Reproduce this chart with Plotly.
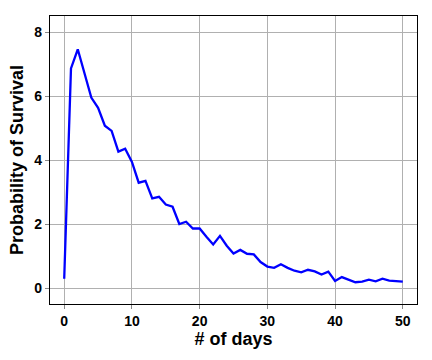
import plotly.graph_objects as go

days = list(range(51))
survival = [0.30, 6.87, 7.47, 6.70, 5.96, 5.64, 5.08, 4.92, 4.27, 4.36,
            3.95, 3.30, 3.36, 2.81, 2.86, 2.62, 2.55, 2.01, 2.08, 1.87,
            1.87, 1.61, 1.37, 1.64, 1.33, 1.09, 1.20, 1.08, 1.06, 0.82,
            0.68, 0.64, 0.75, 0.64, 0.55, 0.50, 0.58, 0.53, 0.43, 0.52,
            0.23, 0.35, 0.26, 0.19, 0.21, 0.27, 0.22, 0.30, 0.24, 0.22,
            0.21]
x_ticks = [0, 10, 20, 30, 40, 50]
y_ticks = [0, 2, 4, 6, 8]

fig = go.Figure()
fig.add_trace(go.Scatter(x=days, y=survival, mode="lines",
                         line=dict(color="#0000ff", width=2.3)))

font_family = "Arial"
axis_common = dict(
    showgrid=True, gridcolor="#b0b0b0", gridwidth=1,
    showline=True, linecolor="black", linewidth=1.2, mirror=True,
    ticks="outside", ticklen=4, tickcolor="#888888",
    zeroline=False,
    tickfont=dict(family=font_family, size=14, color="black", weight="bold"),
)

fig.update_layout(
    width=432, height=360,
    font=dict(family=font_family),
    margin=dict(l=50, r=15, t=16, b=56),
    paper_bgcolor="white", plot_bgcolor="white",
    showlegend=False,
    xaxis=dict(range=[-2.1, 52.1], tickvals=x_ticks,
               title=dict(text="# of days", standoff=4,
                          font=dict(family=font_family, size=18, color="black", weight="bold")),
               **axis_common),
    yaxis=dict(range=[-0.49, 8.51], tickvals=y_ticks,
               title=dict(text="Probability of Survival", standoff=6,
                          font=dict(family=font_family, size=18, color="black", weight="bold")),
               **axis_common),
)

fig.write_html("out.html")
